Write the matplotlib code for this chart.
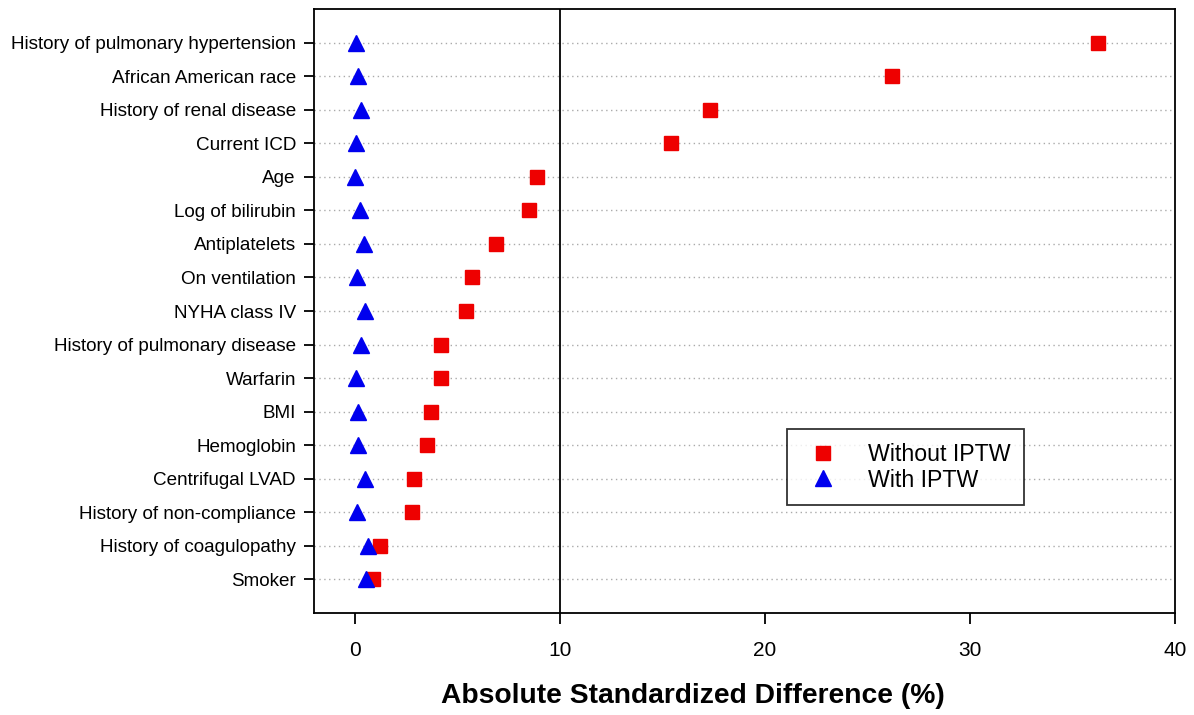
import matplotlib
matplotlib.use("Agg")
import matplotlib.pyplot as plt
from matplotlib.lines import Line2D

plt.rcParams['font.family'] = ['Liberation Sans', 'DejaVu Sans']

covariates = [
    "History of pulmonary hypertension",
    "African American race",
    "History of renal disease",
    "Current ICD",
    "Age",
    "Log of bilirubin",
    "Antiplatelets",
    "On ventilation",
    "NYHA class IV",
    "History of pulmonary disease",
    "Warfarin",
    "BMI",
    "Hemoglobin",
    "Centrifugal LVAD",
    "History of non-compliance",
    "History of coagulopathy",
    "Smoker",
]
without_iptw = [36.25, 26.2, 17.3, 15.4, 8.9, 8.5, 6.9, 5.7, 5.4, 4.2, 4.2,
                3.7, 3.5, 2.9, 2.8, 1.2, 0.9]
with_iptw = [0.07, 0.15, 0.29, 0.05, 0.02, 0.22, 0.46, 0.10, 0.50, 0.31, 0.03,
             0.15, 0.16, 0.49, 0.11, 0.63, 0.52]
x_ticks = [0, 10, 20, 30, 40]

fig = plt.figure(figsize=(11.94, 7.15), dpi=100)
ax = fig.add_axes([0.263, 0.143, 0.721, 0.844])

n = len(covariates)
ypos = list(range(n, 0, -1))

for y in ypos:
    ax.axhline(y, color="#aaaaaa", lw=1.0, ls=(0, (1, 2.5)), zorder=1)
ax.axvline(10, color="black", lw=1.3, zorder=2)

ax.plot(without_iptw, ypos, ls="none", marker="s", ms=10, color="#ee0000",
        mec="#ee0000", zorder=3, label="Without IPTW")
ax.plot(with_iptw, ypos, ls="none", marker="^", ms=11, color="#0000ee",
        mec="#0000ee", zorder=4, label="With IPTW")

ax.set_xlim(-2, 40)
ax.set_ylim(0, n + 1)
ax.set_yticks(ypos)
ax.set_yticklabels(covariates, fontsize=13.6)
ax.set_xticks(x_ticks)
ax.set_xticklabels([str(t) for t in x_ticks], fontsize=15)
ax.tick_params(axis="y", length=7, width=1.3, pad=6)
ax.tick_params(axis="x", length=8, width=1.3, pad=12)
for s in ax.spines.values():
    s.set_linewidth(1.3)

ax.set_xlabel("Absolute Standardized Difference (%)", fontsize=20.3,
              fontweight="bold")
ax.xaxis.set_label_coords(0.4396, -0.116)

handles = [
    Line2D([], [], ls="none", marker="s", ms=10, color="#ee0000"),
    Line2D([], [], ls="none", marker="^", ms=11, color="#0000ee"),
]
leg = ax.legend(handles, ["Without IPTW", "With IPTW"], loc="upper left",
                bbox_to_anchor=(0.549, 0.304), fontsize=16.7, frameon=True,
                fancybox=False, edgecolor="black", handletextpad=0.95,
                labelspacing=0.1, borderpad=0.6, handlelength=1.95,
                borderaxespad=0)
leg.get_frame().set_linewidth(1.3)

fig.savefig("out.png", dpi=100)
